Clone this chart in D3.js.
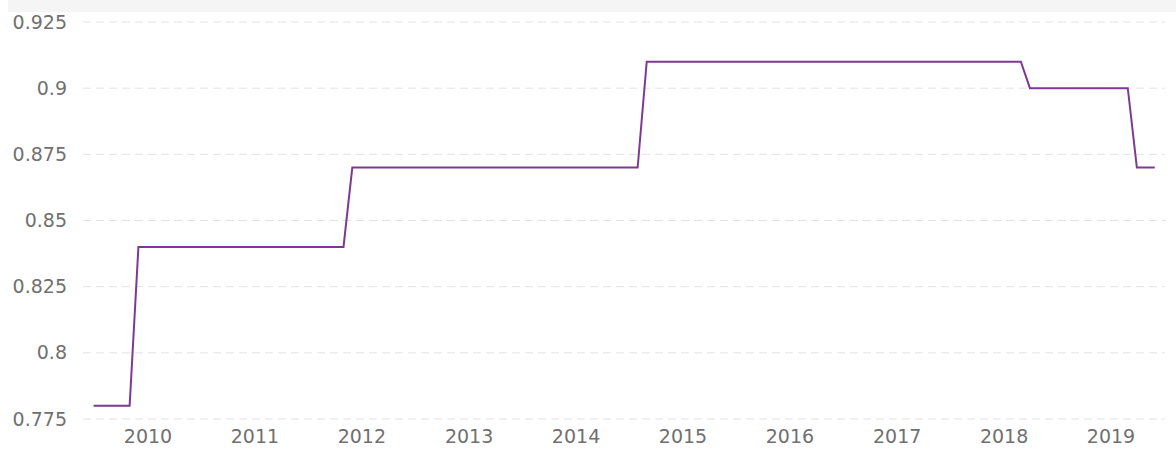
<!DOCTYPE html>
<html>
<head>
<meta charset="utf-8">
<script src="https://cdn.jsdelivr.net/npm/d3@7"></script>
<style>
  body { margin: 0; background: #fff; }
  svg { display: block; }
  .tick text { font-family: "DejaVu Sans", sans-serif; font-size: 19px; fill: #707070; }
</style>
</head>
<body>
<svg></svg>
<script>
var screen = {width:1176, height:450}
var plot = {left:83, right:1165, top:22, bottom:419}

// points where the step line turns (month, value)
var dates = ["2009-07","2009-11","2009-12","2011-11","2011-12","2014-08","2014-09","2018-03","2018-04","2019-03","2019-04","2019-06"]
var values = [0.78,0.78,0.84,0.84,0.87,0.87,0.91,0.91,0.90,0.90,0.87,0.87]
var yTicks = [0.775,0.8,0.825,0.85,0.875,0.9,0.925]
var yearTicks = [2010,2011,2012,2013,2014,2015,2016,2017,2018,2019]

var parseMonth = d3.timeParse("%Y-%m")
var points = dates.map(function(d,i){ return {date:parseMonth(d), value:values[i]} })

var svg = d3.select("svg")
    .attr("width",screen.width)
    .attr("height",screen.height)

// light band along the top
svg.append("rect")
   .attr("x",8).attr("y",0)
   .attr("width",screen.width-8).attr("height",12)
   .attr("fill","#f5f5f5")

var xScale = d3.scaleTime()
    .domain([new Date(2010,0,1), new Date(2019,0,1)])
    .range([147.5, 1110.5])
var yScale = d3.scaleLinear()
    .domain([0.775,0.925])
    .range([plot.bottom, plot.top])

// gridlines
svg.append("g")
   .selectAll("line")
   .data(yTicks)
   .enter()
   .append("line")
   .attr("x1",plot.left)
   .attr("x2",plot.right)
   .attr("y1",function(d){return yScale(d)})
   .attr("y2",function(d){return yScale(d)})
   .attr("stroke","#e3e3e3")
   .attr("stroke-width",1)
   .attr("stroke-dasharray","8,5")

var yAxis = d3.axisLeft(yScale)
    .tickValues(yTicks)
    .tickFormat(function(d){return d3.format("")(+d.toFixed(3))})
    .tickSize(0)
    .tickPadding(0)
svg.append("g")
   .attr("transform","translate(67,0)")
   .call(yAxis)
   .call(function(g){ g.select(".domain").remove() })

var xAxis = d3.axisBottom(xScale)
    .tickValues(yearTicks.map(function(y){return new Date(y,0,1)}))
    .tickFormat(d3.timeFormat("%Y"))
    .tickSize(0)
    .tickPadding(0)
svg.append("g")
   .attr("transform","translate(0,429)")
   .call(xAxis)
   .call(function(g){ g.select(".domain").remove() })

var lineGenerator = d3.line()
    .x(function(d){return xScale(d.date)})
    .y(function(d){return yScale(d.value)})

svg.append("path")
   .datum(points)
   .attr("d",lineGenerator)
   .attr("fill","none")
   .attr("stroke","#7e3a93")
   .attr("stroke-width",2)
</script>
</body>
</html>
